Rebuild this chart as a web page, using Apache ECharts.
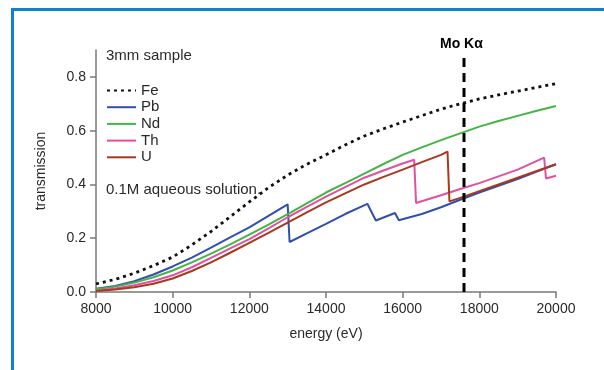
<!DOCTYPE html>
<html><head><meta charset="utf-8">
<script src="https://cdn.jsdelivr.net/npm/echarts@6/dist/echarts.min.js"></script>
<style>html,body{margin:0;padding:0;background:#fff}#c{width:604px;height:370px}</style>
</head><body><div id="c"></div>
<script>
const xTicks = [8000, 10000, 12000, 14000, 16000, 18000, 20000];
const yTicks = [0, 0.2, 0.4, 0.6, 0.8];

const feE = [8000, 8500, 9000, 9500, 10000, 10500, 11000, 11500, 12000, 12500, 13000, 13500, 14000, 14500, 15000, 15500, 16000, 16500, 17000, 17500, 18000, 18500, 19000, 19500, 20000];
const feV = [0.03, 0.047, 0.07, 0.098, 0.13, 0.175, 0.225, 0.28, 0.335, 0.388, 0.435, 0.475, 0.51, 0.547, 0.58, 0.607, 0.632, 0.656, 0.68, 0.7, 0.718, 0.733, 0.747, 0.761, 0.775];

const pbE = [8000, 8500, 9000, 9500, 10000, 10500, 11000, 11500, 12000, 12500, 13000, 13050, 13500, 14000, 14500, 15080, 15300, 15800, 15900, 16500, 17000, 17500, 18000, 18500, 19000, 19500, 20000];
const pbV = [0.012, 0.022, 0.04, 0.065, 0.095, 0.128, 0.165, 0.203, 0.24, 0.283, 0.326, 0.186, 0.218, 0.253, 0.29, 0.328, 0.266, 0.294, 0.267, 0.29, 0.315, 0.343, 0.37, 0.395, 0.42, 0.448, 0.475];

const ndE = [8000, 8500, 9000, 9500, 10000, 10500, 11000, 11500, 12000, 12500, 13000, 13500, 14000, 14500, 15000, 15500, 16000, 16500, 17000, 17500, 18000, 18500, 19000, 19500, 20000];
const ndV = [0.01, 0.02, 0.035, 0.055, 0.08, 0.11, 0.143, 0.177, 0.213, 0.251, 0.29, 0.33, 0.37, 0.405, 0.44, 0.476, 0.51, 0.538, 0.565, 0.59, 0.615, 0.636, 0.655, 0.674, 0.692];

const thE = [8000, 8500, 9000, 9500, 10000, 10500, 11000, 11500, 12000, 12500, 13000, 13500, 14000, 14500, 15000, 15500, 16000, 16300, 16350, 17000, 17500, 18000, 18500, 19000, 19690, 19740, 20000];
const thV = [0.005, 0.013, 0.025, 0.041, 0.062, 0.092, 0.127, 0.162, 0.197, 0.237, 0.278, 0.317, 0.355, 0.39, 0.425, 0.452, 0.478, 0.492, 0.331, 0.36, 0.383, 0.405, 0.43, 0.455, 0.5, 0.422, 0.432];

const uE = [8000, 8500, 9000, 9500, 10000, 10500, 11000, 11500, 12000, 12500, 13000, 13500, 14000, 14500, 15000, 15500, 16000, 16500, 17000, 17170, 17220, 17500, 18000, 18500, 19000, 19500, 20000];
const uV = [0.004, 0.009, 0.018, 0.031, 0.05, 0.078, 0.11, 0.146, 0.183, 0.22, 0.258, 0.296, 0.333, 0.367, 0.4, 0.428, 0.455, 0.483, 0.51, 0.522, 0.337, 0.35, 0.375, 0.4, 0.425, 0.45, 0.475];

const moE = [17600, 17600];
const moV = [0, 0.87];

const names = ['Fe', 'Pb', 'Nd', 'Th', 'U'];
const colors = ['#111111', '#3050b0', '#44b544', '#e0529f', '#a8391f'];

const pairs = (xs, ys) => xs.map((x, i) => [x, ys[i]]);
const FONT = '"Liberation Sans", Arial, Helvetica, sans-serif';
const TXT = '#2a2a2a';
const AX = '#7a7a7a';

const mk = (name, xs, ys, color, type) => ({
  name, type: 'line', data: pairs(xs, ys), symbol: 'none', showSymbol: false, smooth: false,
  lineStyle: { color, width: type ? 2.8 : 2, type: type || 'solid' }, itemStyle: { color }, z: 3
});

const chart = echarts.init(document.getElementById('c'), null, { renderer: 'canvas' });
chart.setOption({
  animation: false,
  backgroundColor: '#fff',
  textStyle: { fontFamily: FONT },
  grid: { left: 96, right: 48, top: 50, bottom: 78, containLabel: false },
  xAxis: {
    type: 'value', min: 8000, max: 20000, interval: 2000,
    name: 'energy (eV)', nameLocation: 'middle', nameGap: 35,
    nameTextStyle: { fontSize: 14, color: TXT, fontFamily: FONT },
    axisLine: { lineStyle: { color: AX, width: 1.5 } },
    axisTick: { show: true, length: 6, lineStyle: { color: AX, width: 1.5 }, customValues: xTicks },
    axisLabel: { fontSize: 14, color: TXT, margin: 10, fontFamily: FONT, customValues: xTicks,
      formatter: v => String(v) },
    splitLine: { show: false }
  },
  yAxis: {
    type: 'value', min: 0, max: 0.9,
    name: 'transmission', nameLocation: 'middle', nameGap: 48,
    nameTextStyle: { fontSize: 14, color: TXT, fontFamily: FONT },
    axisLine: { show: true, lineStyle: { color: AX, width: 1.5 } },
    axisTick: { show: true, length: 6, lineStyle: { color: AX, width: 1.5 }, customValues: yTicks },
    axisLabel: { fontSize: 14, color: TXT, margin: 10, fontFamily: FONT, customValues: yTicks,
      formatter: v => v.toFixed(1) },
    splitLine: { show: false }
  },
  legend: {
    orient: 'vertical', left: 101, top: 78, itemWidth: 29, itemHeight: 14, itemGap: 1.7,
    data: names,
    itemStyle: { opacity: 0 },
    textStyle: { fontSize: 15, color: TXT, fontFamily: FONT, lineHeight: 14 },
    inactiveColor: '#ccc'
  },
  series: [
    mk('Fe', feE, feV, colors[0], [3, 4]),
    mk('Pb', pbE, pbV, colors[1]),
    mk('Nd', ndE, ndV, colors[2]),
    mk('Th', thE, thV, colors[3]),
    mk('U', uE, uV, colors[4]),
    { name: 'MoKa', type: 'line', data: pairs(moE, moV), symbol: 'none', z: 4,
      lineStyle: { color: '#000', width: 3, type: [9, 6] } }
  ],
  graphic: [
    { type: 'rect', left: 11, top: 8, shape: { width: 3, height: 362 }, style: { fill: '#0f82cb' } },
    { type: 'rect', left: 11, top: 8, shape: { width: 593, height: 3 }, style: { fill: '#0f82cb' } },
    { type: 'text', left: 106, top: 48, style: { text: '3mm sample', fontSize: 15, fill: TXT, fontFamily: FONT } },
    { type: 'text', left: 106, top: 182, style: { text: '0.1M aqueous solution.', fontSize: 15, fill: TXT, fontFamily: FONT } },
    { type: 'text', left: 440, top: 37, style: { text: 'Mo Kα', fontSize: 14, fontWeight: 'bold', fill: '#000', fontFamily: FONT } }
  ]
});
</script></body></html>
